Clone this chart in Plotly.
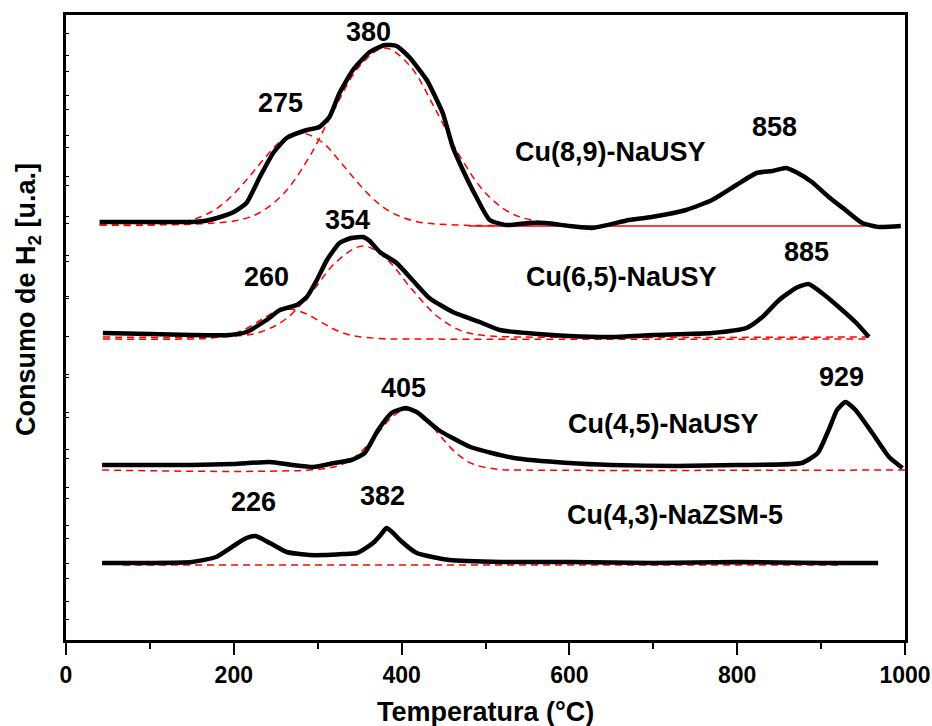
import plotly.graph_objects as go

# ---- H2-TPR profiles (temperature in °C, signal in arbitrary units) ----
t_89 = [40, 100, 150, 165, 180, 200, 215, 231, 247, 263, 287, 302, 314, 326, 342, 362, 380, 394,
        409, 430, 449, 461, 473, 489, 505, 525, 552, 572, 600, 627, 671, 698, 739, 770, 799, 823,
        842, 858, 870, 889, 909, 929, 949, 969, 995]
s_89 = [418, 418, 418, 419, 422, 428, 437, 463, 487, 502, 510, 513, 523, 547, 570, 588, 595, 594,
        583, 560, 527, 493, 470, 443, 420, 415, 417, 417, 414, 412, 420, 423, 430, 440, 455, 467,
        469, 472, 468, 458, 443, 430, 417, 413, 414]

t_65 = [44, 100, 150, 195, 215, 239, 255, 275, 287, 299, 311, 326, 340, 354, 362, 374, 394, 413,
        433, 461, 493, 517, 549, 600, 651, 700, 770, 811, 830, 850, 870, 885, 901, 921, 942, 957]
s_65 = [307, 306, 305, 305, 308, 320, 330, 335, 343, 360, 380, 397, 402, 403, 399, 388, 377, 360,
        342, 328, 318, 310, 307, 304, 303, 305, 307, 312, 323, 340, 352, 356, 347, 333, 317, 303]

t_45 = [43, 100, 150, 200, 243, 270, 295, 320, 340, 356, 372, 388, 405, 418, 444, 482, 534, 599,
        650, 728, 800, 877, 896, 909, 919, 929, 941, 961, 981, 997]
s_45 = [175, 175, 175, 176, 178, 175, 173, 177, 180, 187, 210, 227, 232, 228, 210, 193, 182, 177,
        175, 174, 175, 177, 187, 210, 230, 238, 230, 207, 183, 172]

t_43 = [43, 100, 150, 179, 205, 215, 226, 243, 263, 290, 308, 330, 347, 366, 375, 382, 390, 398,
        418, 457, 520, 600, 700, 800, 900, 968]
s_43 = [77, 77, 78, 83, 97, 102, 104, 97, 88, 85, 85, 86, 87, 97, 105, 112, 107, 100,
        87, 80, 78, 78, 77, 78, 77, 77]

# ---- deconvoluted components (baseline + contribution) ----
base_89 = 415
fa_89_t = [40, 100, 145, 175, 195, 215, 235, 255, 280, 305, 325, 345, 365, 385, 415, 465, 560]
fa_89_h = [0, 0, 4, 14, 27, 45, 65, 83, 92, 83, 65, 45, 27, 14, 4, 0, 0]
fb_89_t = [40, 200, 230, 260, 290, 320, 350, 380, 410, 440, 470, 500, 530, 560, 600]
fb_89_h = [0, 4, 12, 32, 68, 116, 159, 177, 159, 116, 68, 32, 12, 4, 0.5]
line_89_t = [480, 952]
line_89_s = [414, 414]

base_65a = 301
fa_65_t = [44, 174, 194, 214, 234, 249, 265, 284, 304, 324, 344, 374, 414, 957]
fa_65_h = [0, 1, 4, 10, 20, 27, 30, 26, 17, 8, 3, 0.5, 0, 0]
base_65b = 303
fb_65_t = [44, 202, 232, 262, 292, 322, 354, 382, 412, 442, 472, 502, 542, 957]
fb_65_h = [0, 1, 5, 18, 44, 75, 91, 78, 48, 21, 6, 1.3, 0, 0]

base_45 = 170
f_45_t = [43, 300, 330, 350, 370, 390, 405, 425, 445, 465, 485, 515, 540, 1000]
f_45_h = [0, 0.7, 6, 17, 35, 54, 60, 54, 35, 17, 6, 0.7, 0, 0]

base_43_t = [68, 923]
base_43_s = [75, 75]

# ---- annotations: text, temperature, signal ----
labels = [
    ("380", 360, 608), ("275", 256, 537), ("858", 844, 513), ("Cu(8,9)-NaUSY", 649, 488),
    ("354", 336, 420), ("260", 239, 363), ("885", 883, 388), ("Cu(6,5)-NaUSY", 662, 363),
    ("929", 924, 263), ("405", 402, 252), ("Cu(4,5)-NaUSY", 712, 216),
    ("226", 224, 138), ("382", 377, 144), ("Cu(4,3)-NaZSM-5", 726, 125),
]

y_ticks = sorted([607, 569, 531, 493, 455, 417, 379, 342, 304, 266, 228, 191, 153, 115, 77, 39,
                  585, 545, 505, 464, 424, 385, 344, 263, 223, 182, 142, 102, 62, 21])

FONT = "Liberation Sans, Arial, sans-serif"
RED = "#ff0000"

fig = go.Figure()


def fit_curve(t, h, base):
    fig.add_trace(go.Scatter(
        x=t, y=[base + v for v in h], mode="lines",
        line=dict(color=RED, width=1.5, dash="7px,5px", shape="spline", smoothing=1.0),
        hoverinfo="skip", showlegend=False))


# fitted components drawn first, measured profiles on top
fit_curve(fa_89_t, fa_89_h, base_89)
fit_curve(fb_89_t, fb_89_h, base_89)
fig.add_trace(go.Scatter(x=line_89_t, y=line_89_s, mode="lines",
                         line=dict(color=RED, width=1.5), showlegend=False))
fit_curve(fa_65_t, fa_65_h, base_65a)
fit_curve(fb_65_t, fb_65_h, base_65b)
fit_curve(f_45_t, f_45_h, base_45)
fig.add_trace(go.Scatter(x=base_43_t, y=base_43_s, mode="lines",
                         line=dict(color=RED, width=1.5, dash="7px,5px"), showlegend=False))

for t, s, name in [(t_89, s_89, "Cu(8,9)-NaUSY"), (t_65, s_65, "Cu(6,5)-NaUSY"),
                   (t_45, s_45, "Cu(4,5)-NaUSY"), (t_43, s_43, "Cu(4,3)-NaZSM-5")]:
    fig.add_trace(go.Scatter(x=t, y=s, mode="lines", name=name,
                             line=dict(color="black", width=4.5, shape="spline", smoothing=0.5),
                             showlegend=False))

for text, x, y in labels:
    fig.add_annotation(x=x, y=y, xref="x", yref="y", text=text, showarrow=False,
                       font=dict(family=FONT, size=27, color="black", weight="bold"))

fig.add_annotation(x=-38 / 839, y=(640 - 300) / 625, xref="paper", yref="paper",
                   xanchor="center", yanchor="middle",
                   text="Consumo de H<sub>2</sub> [u.a.]", textangle=-90, showarrow=False,
                   font=dict(family=FONT, size=27, color="black", weight="bold"))
fig.add_annotation(x=0.5, y=-(712 - 640) / 625, xref="paper", yref="paper",
                   xanchor="center", yanchor="middle",
                   text="Temperatura (°C)", showarrow=False,
                   font=dict(family=FONT, size=27, color="black", weight="bold"))

fig.update_xaxes(range=[0, 1000], tickmode="linear", tick0=0, dtick=200,
                 ticks="outside", ticklen=12, tickwidth=2, tickcolor="black",
                 minor=dict(dtick=100, ticks="outside", ticklen=6, tickwidth=2, tickcolor="black"),
                 showline=True, linewidth=3, linecolor="black", mirror=True,
                 showgrid=False, zeroline=False, automargin=False,
                 tickfont=dict(family=FONT, size=23, color="black", weight="bold"))
fig.update_yaxes(range=[0, 625], tickmode="array", tickvals=y_ticks, showticklabels=False,
                 ticks="inside", ticklen=3, tickwidth=1, tickcolor="black",
                 showline=True, linewidth=3, linecolor="black", mirror=True,
                 showgrid=False, zeroline=False, automargin=False)

fig.update_layout(width=932, height=726, margin=dict(l=66, r=27, t=15, b=86),
                  plot_bgcolor="white", paper_bgcolor="white", showlegend=False)

fig.write_html("out.html")
